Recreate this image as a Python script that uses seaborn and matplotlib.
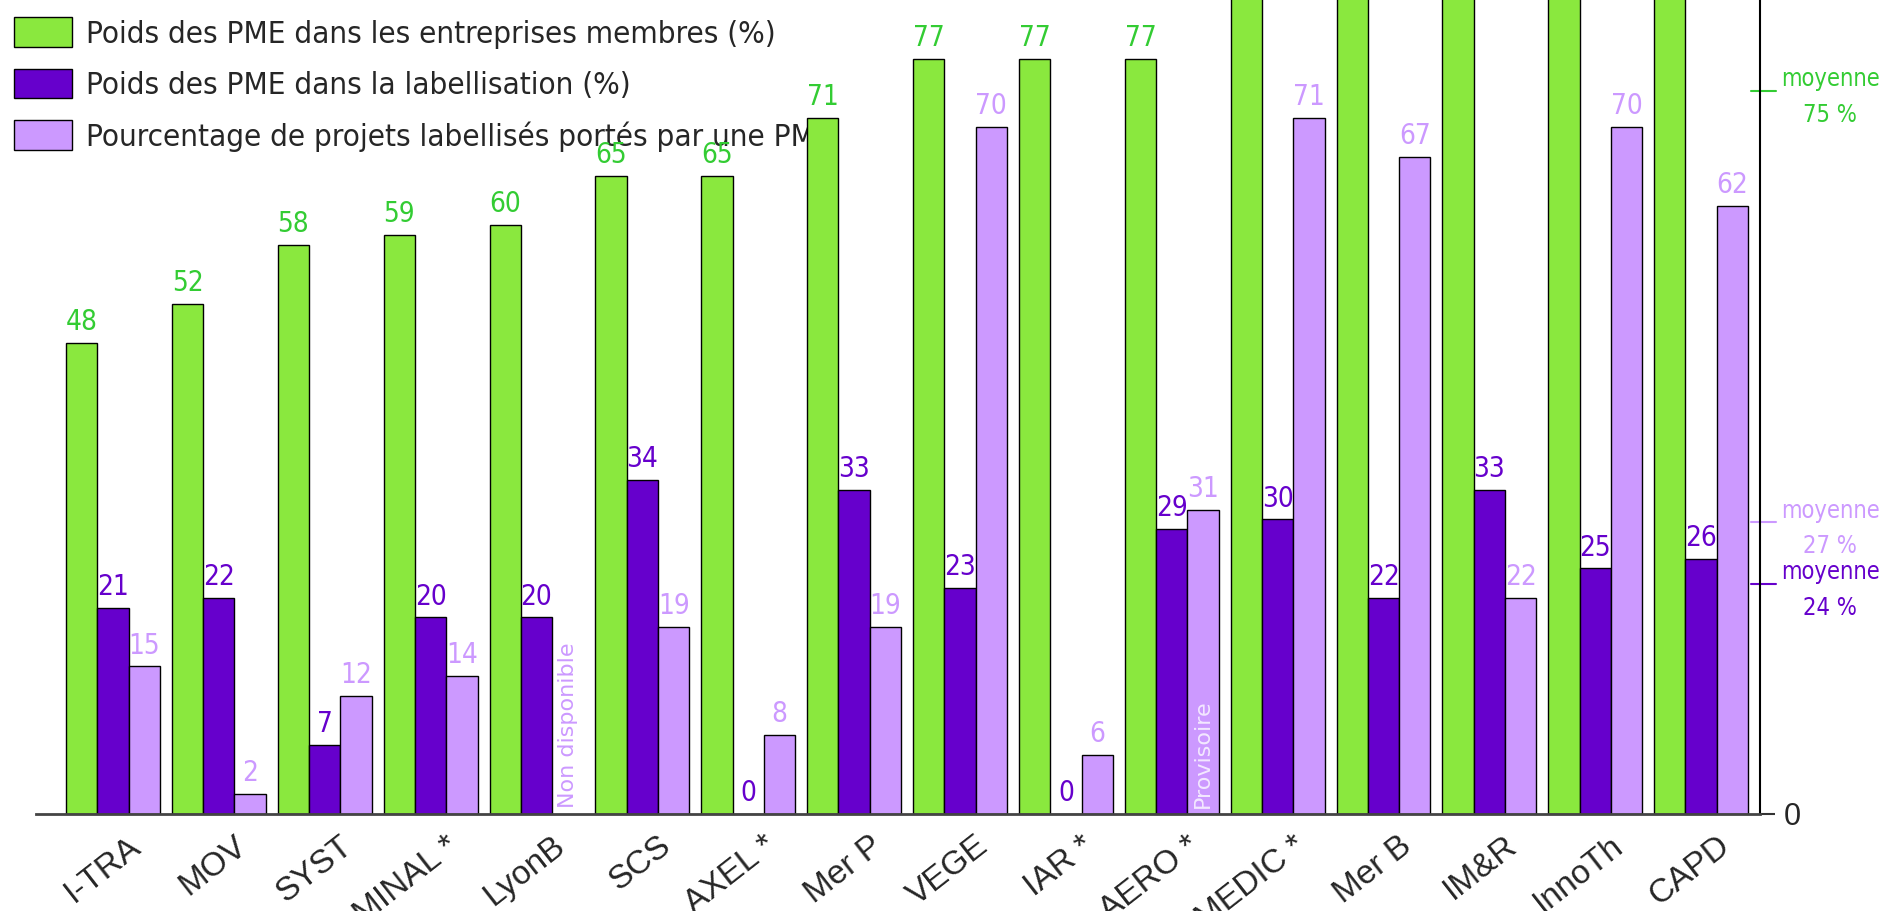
import numpy as np
import pandas as pd
import matplotlib
matplotlib.use('Agg')
import matplotlib.pyplot as plt
import matplotlib.transforms as mtransforms
import seaborn as sns

# Poles and the three series
poles = ['I-TRA', 'MOV', 'SYST', 'MINAL *', 'LyonB', 'SCS', 'AXEL *', 'Mer P',
         'VEGE', 'IAR *', 'AERO *', 'MEDIC *', 'Mer B', 'IM&R', 'InnoTh', 'CAPD']
# last five go past the top of the chart, values guessed
poids_membres = [48, 52, 58, 59, 60, 65, 65, 71, 77, 77, 77, 95, 100, 97, 100, 99]
poids_labellisation = [21, 22, 7, 20, 20, 34, 0, 33, 23, 0, 29, 30, 22, 33, 25, 26]
projets_pme = [15, 2, 12, 14, np.nan, 19, 8, 19, 70, 6, 31, 71, 67, 22, 70, 62]

series_names = ['Poids des PME dans les entreprises membres (%)',
                'Poids des PME dans la labellisation (%)',
                'Pourcentage de projets labellisés portés par une PME']
bar_colors = ['#8ae83e', '#6600cc', '#cc99ff']
label_colors = ['#33cc33', '#6600cc', '#cc99ff']

# averages shown on the right axis
mean_texts = ['75 %', '27 %', '24 %']
mean_levels = [73.7, 29.7, 23.4]
mean_colors = ['#33cc33', '#cc99ff', '#6600cc']

df = pd.DataFrame({'pole': poles,
                   series_names[0]: poids_membres,
                   series_names[1]: poids_labellisation,
                   series_names[2]: projets_pme})
long_df = df.melt(id_vars='pole', var_name='serie', value_name='valeur')

sns.set_theme(style='white')
plt.rcParams['font.family'] = ['DejaVu Sans']
plt.rcParams['font.stretch'] = 'condensed'

fig = plt.figure(figsize=(18.84, 9.11), dpi=100)
ax = fig.add_axes([36 / 1884, 97.5 / 911, 1724 / 1884, 813.5 / 911])

sns.barplot(data=long_df, x='pole', y='valeur', hue='serie', hue_order=series_names,
            order=poles, palette=bar_colors, saturation=1, width=0.886, edgecolor='black',
            linewidth=1, errorbar=None, ax=ax, zorder=2)

# value labels on top of bars
for cont, col in zip(ax.containers, label_colors):
    labels = [f'{v:.0f}' if np.isfinite(v) else '' for v in cont.datavalues]
    ax.bar_label(cont, labels=labels, color=col, fontsize=20, padding=5, clip_on=True)

# notes written inside the bars
dark = ax.containers[1]
lyon = dark[poles.index('LyonB')]
ax.text(lyon.get_x() + 1.5 * lyon.get_width(), 0.6, 'Non disponible', rotation=90,
        ha='center', va='bottom', color='#cc99ff', fontsize=16, family='DejaVu Sans',
        fontstretch='normal')
aero = dark[poles.index('AERO *')]
ax.text(aero.get_x() + 1.5 * aero.get_width(), 0.6, 'Provisoire', rotation=90,
        ha='center', va='bottom', color='#f3e8ff', fontsize=16, family='DejaVu Sans',
        fontstretch='normal', zorder=4)

ax.set_xlim(-0.727, 15.556)
ax.set_ylim(0, 83)
ax.set_xlabel('')
ax.set_ylabel('')

ax.set_xticks(range(len(poles)))
ax.set_xticklabels(poles, rotation=38, ha='right', rotation_mode='anchor',
                   fontsize=24, family='Liberation Sans', fontstretch='normal')
ax.tick_params(axis='x', length=0, pad=12)
offset = mtransforms.ScaledTranslation(0.15, 0, fig.dpi_scale_trans)
for lab in ax.get_xticklabels():
    lab.set_transform(lab.get_transform() + offset)

ax.yaxis.tick_right()
ax.set_yticks([0])
ax.set_yticklabels(['0'], family='Liberation Sans', fontstretch='normal')
ax.tick_params(axis='y', length=11, width=1.5, pad=6, labelsize=22, color='#333333')

for s in ['left', 'top']:
    ax.spines[s].set_visible(False)
ax.spines['bottom'].set_color('#444444')
ax.spines['bottom'].set_linewidth(2)
ax.spines['right'].set_color('black')
ax.spines['right'].set_linewidth(1.5)

# mean markers on the right axis
trans = ax.get_yaxis_transform()
for lvl, txt, col in zip(mean_levels, mean_texts, mean_colors):
    ax.plot([1 - 0.0052, 1 + 0.0093], [lvl, lvl], transform=trans, color=col,
            lw=1.5, clip_on=False)
    ax.text(1.012, lvl - 0.6, 'moyenne\n' + txt, transform=trans, ha='left', va='center',
            multialignment='center', color=col, fontsize=17, linespacing=1.6)

handles, labels = ax.get_legend_handles_labels()
leg = ax.legend(handles, labels, loc='upper left', bbox_to_anchor=(14 / 1884, 1 - 17 / 911),
                bbox_transform=fig.transFigure, frameon=False, fontsize=22.5,
                handlelength=1.86, handleheight=1.09, handletextpad=0.46,
                labelspacing=0.64, borderpad=0, borderaxespad=0)
leg.set_zorder(1)

fig.savefig('out.png', dpi=100)
